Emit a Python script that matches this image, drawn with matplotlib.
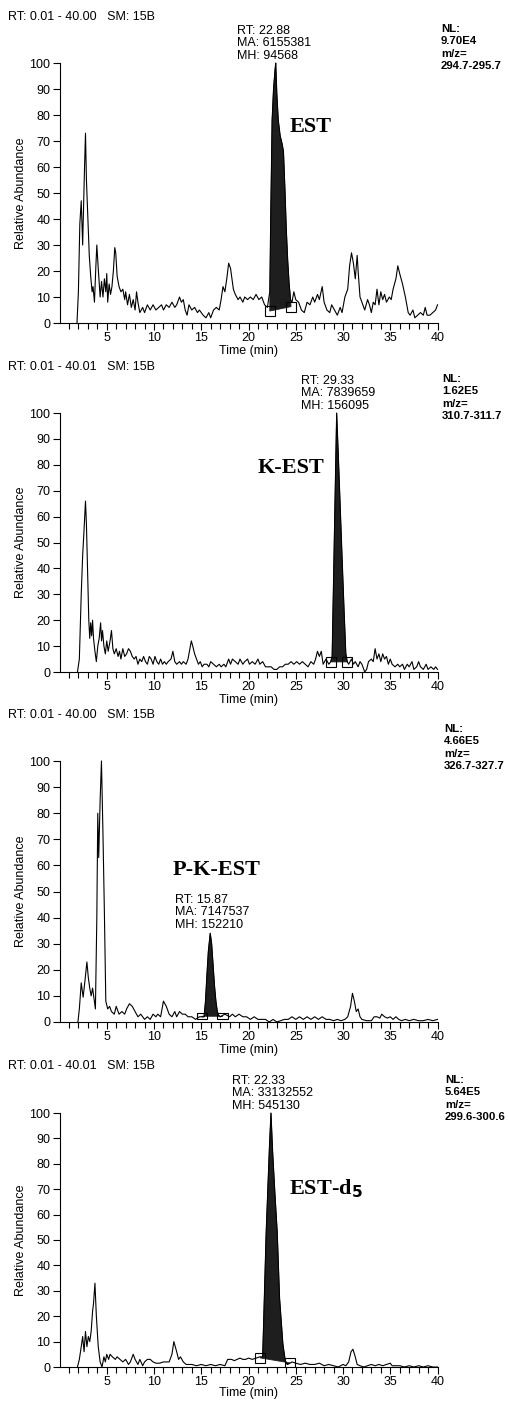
import matplotlib
matplotlib.use("Agg")
import matplotlib.pyplot as plt
from matplotlib.patches import Rectangle

plt.rcParams['font.family'] = ['Liberation Sans', 'DejaVu Sans']

# ---------------- data ----------------
est_time = [1.85, 2.0, 2.15, 2.3, 2.45, 2.55, 2.65, 2.75, 2.85, 3.0, 3.15, 3.3, 3.45, 3.55, 3.7, 3.85, 3.95,
            4.1, 4.3, 4.45, 4.6, 4.75, 4.9, 5.0, 5.1, 5.25, 5.4, 5.55, 5.7, 5.85, 5.95, 6.1, 6.3, 6.5, 6.7,
            6.9, 7.0, 7.2, 7.4, 7.6, 7.8, 8.0, 8.15, 8.3, 8.5, 8.8, 9.0, 9.3, 9.6, 9.9, 10.2, 10.5, 10.8,
            11.0, 11.3, 11.6, 11.9, 12.2, 12.4, 12.7, 12.9, 13.1, 13.3, 13.5, 13.7, 14.0, 14.3, 14.6, 14.8,
            15.0, 15.2, 15.5, 15.8, 16.0, 16.3, 16.6, 16.9, 17.1, 17.3, 17.5, 17.7, 17.9, 18.1, 18.4, 18.6,
            18.9, 19.1, 19.4, 19.6, 19.9, 20.2, 20.5, 20.8, 21.1, 21.4, 21.7, 22.0, 22.25, 22.35, 22.5,
            22.65, 22.8, 22.88, 23.0, 23.15, 23.35, 23.55, 23.7, 23.85, 24.0, 24.15, 24.3, 24.45, 24.6,
            24.8, 25.0, 25.3, 25.6, 25.9, 26.2, 26.5, 26.8, 27.0, 27.3, 27.5, 27.8, 28.0, 28.3, 28.6, 28.8,
            29.1, 29.4, 29.7, 29.9, 30.2, 30.5, 30.7, 30.9, 31.1, 31.3, 31.5, 31.6, 31.8, 32.0, 32.3, 32.6,
            32.8, 33.0, 33.2, 33.4, 33.6, 33.8, 34.0, 34.2, 34.4, 34.6, 34.9, 35.1, 35.3, 35.6, 35.8, 36.0,
            36.3, 36.6, 36.9, 37.1, 37.4, 37.6, 37.9, 38.2, 38.5, 38.7, 38.9, 39.2, 39.5, 39.8, 40.0]
est_abund = [0, 12, 38, 47, 30, 45, 60, 73, 55, 40, 26, 18, 12, 14, 8, 22, 30,
             21, 10, 16, 10, 17, 12, 19, 8, 15, 11, 14, 20, 29, 27, 18, 14, 12, 13,
             9, 12, 7, 11, 6, 9, 5, 12, 8, 4, 6, 4, 7, 5, 7, 5, 6, 7,
             5, 7, 6, 8, 6, 7, 10, 8, 9, 5, 3, 7, 5, 6, 4, 5,
             4, 3, 2, 4, 2, 5, 6, 5, 9, 14, 12, 17, 23, 21, 13, 11,
             9, 10, 8, 10, 9, 10, 9, 11, 9, 10, 7, 6, 12, 40, 78,
             90, 97, 100, 88, 78, 72, 69, 66, 52, 36, 24, 15, 9, 8,
             12, 9, 8, 5, 4, 8, 7, 10, 8, 11, 9, 14, 8, 5, 4, 7,
             5, 3, 6, 4, 10, 13, 22, 27, 23, 17, 26, 20, 10, 8, 5, 9,
             7, 4, 8, 7, 13, 7, 12, 9, 11, 8, 10, 9, 13, 17, 22, 19,
             15, 10, 4, 3, 5, 2, 3, 4, 3, 6, 3, 3, 4, 5, 7]

kest_time = [1.9, 2.1, 2.3, 2.45, 2.6, 2.75, 2.85, 3.0, 3.1, 3.2, 3.3, 3.4, 3.5, 3.6, 3.75, 3.9, 4.05,
             4.2, 4.35, 4.45, 4.55, 4.7, 4.85, 5.0, 5.15, 5.35, 5.5, 5.65, 5.8, 6.0, 6.2, 6.35, 6.5,
             6.7, 6.9, 7.1, 7.3, 7.5, 7.7, 7.9, 8.1, 8.3, 8.5, 8.7, 8.9, 9.1, 9.3, 9.5, 9.7, 9.9,
             10.1, 10.3, 10.5, 10.7, 10.9, 11.1, 11.3, 11.5, 11.8, 12.0, 12.2, 12.4, 12.7, 12.9,
             13.1, 13.4, 13.6, 13.8, 13.95, 14.1, 14.3, 14.5, 14.7, 14.9, 15.1, 15.3, 15.6, 15.8,
             16.0, 16.3, 16.6, 16.9, 17.1, 17.4, 17.6, 17.9, 18.1, 18.3, 18.6, 18.9, 19.1, 19.4,
             19.6, 19.9, 20.1, 20.4, 20.7, 21.0, 21.2, 21.5, 21.8, 22.1, 22.4, 22.7, 23.0, 23.3,
             23.6, 23.9, 24.2, 24.5, 24.8, 25.1, 25.4, 25.7, 26.0, 26.3, 26.6, 26.9, 27.1, 27.3,
             27.5, 27.7, 27.9, 28.2, 28.5, 28.7, 28.85, 29.0, 29.15, 29.33, 29.5, 29.7, 29.9,
             30.1, 30.3, 30.45, 30.6, 30.9, 31.1, 31.3, 31.6, 31.8, 32.0, 32.3, 32.5, 32.7, 33.0,
             33.2, 33.4, 33.6, 33.8, 34.0, 34.2, 34.4, 34.6, 34.8, 35.0, 35.2, 35.5, 35.8, 36.0,
             36.3, 36.5, 36.8, 37.0, 37.3, 37.5, 37.8, 38.0, 38.2, 38.5, 38.8, 39.0, 39.3, 39.6,
             39.8, 40.0]
kest_abund = [0, 5, 30, 45, 55, 66, 57, 35, 20, 13, 19, 14, 20, 13, 8, 4, 10,
              13, 19, 12, 16, 10, 7, 12, 8, 12, 16, 9, 7, 9, 6, 8, 5,
              9, 6, 7, 9, 8, 6, 5, 6, 3, 5, 4, 6, 4, 3, 6, 5, 3,
              6, 4, 3, 5, 3, 4, 3, 4, 5, 8, 4, 3, 4, 3,
              4, 3, 5, 9, 12, 10, 7, 5, 3, 4, 2, 3, 3, 2,
              4, 3, 2, 3, 2, 3, 2, 5, 3, 5, 4, 3, 5, 3,
              4, 5, 3, 4, 3, 5, 3, 4, 2, 2, 2, 1, 1, 2,
              2, 3, 3, 4, 3, 4, 3, 4, 3, 2, 4, 3, 5, 8,
              6, 8, 3, 5, 3, 4, 6, 35, 65, 100, 84, 64, 44,
              25, 7, 4, 3, 5, 3, 4, 2, 4, 3, 0, 1, 4, 5,
              4, 9, 5, 7, 4, 7, 5, 6, 3, 5, 3, 2, 3, 2,
              3, 1, 3, 2, 4, 1, 2, 4, 2, 1, 3, 1, 2, 1,
              2, 1]

pkest_time = [1.95, 2.1, 2.3, 2.5, 2.7, 2.9, 3.05, 3.2, 3.35, 3.5, 3.65, 3.8, 3.95, 4.05, 4.15, 4.3,
              4.44, 4.6, 4.75, 4.9, 5.1, 5.3, 5.5, 5.8, 6.0, 6.1, 6.3, 6.6, 6.9, 7.1, 7.4, 7.7, 8.0,
              8.3, 8.6, 9.0, 9.3, 9.6, 9.9, 10.2, 10.4, 10.7, 11.0, 11.3, 11.6, 11.9, 12.2, 12.4,
              12.7, 13.0, 13.3, 13.6, 14.0, 14.4, 14.8, 15.1, 15.3, 15.45, 15.6, 15.75, 15.95, 16.1,
              16.25, 16.4, 16.55, 16.7, 16.85, 17.0, 17.5, 18.0, 18.3, 18.6, 19.0, 19.4, 19.8, 20.2,
              20.6, 21.0, 21.4, 21.8, 22.2, 22.6, 23.0, 23.4, 23.8, 24.2, 24.6, 25.0, 25.4, 25.8,
              26.2, 26.6, 27.0, 27.4, 27.8, 28.2, 28.6, 29.0, 29.4, 29.8, 30.2, 30.5, 30.8, 31.0,
              31.2, 31.4, 31.6, 31.8, 32.0, 32.5, 33.0, 33.3, 33.6, 33.9, 34.1, 34.4, 34.7, 35.0,
              35.3, 35.6, 35.9, 36.2, 36.6, 37.0, 37.5, 38.0, 38.5, 39.0, 39.5, 40.0]
pkest_abund = [0, 5, 15, 9.5, 16, 23, 17, 13, 10, 13, 9, 5, 40, 80, 63, 85,
               100, 72, 42, 8, 5, 6, 4, 3, 6, 5, 3, 4, 3, 5, 7, 6, 4,
               2, 3, 1, 2, 1, 3, 2, 3, 2, 8, 6, 3, 2, 4, 2,
               4, 3, 3, 2, 2, 1, 2, 2, 2, 8, 18, 27, 34, 30,
               22, 14, 8, 4, 2.5, 2, 3, 2, 3, 2, 3, 2, 2, 1,
               2, 1, 1, 1, 0, 1, 0, 0.5, 1, 1, 2, 1, 2, 1,
               2, 1, 2, 1, 2, 1, 1, 0.5, 1, 0.5, 1, 2, 6, 11,
               8, 4, 5, 2, 1, 0.5, 0.5, 2, 2, 1.5, 3, 2, 1.5, 2,
               1, 2, 1, 0.5, 1, 0.5, 1, 0.5, 0.5, 1, 0.5, 1]

estd5_time = [1.9, 2.1, 2.3, 2.45, 2.6, 2.75, 2.9, 3.05, 3.2, 3.35, 3.5, 3.6, 3.75, 3.9, 4.1, 4.3,
              4.5, 4.7, 4.85, 5.0, 5.2, 5.35, 5.6, 5.9, 6.1, 6.4, 6.7, 7.0, 7.3, 7.5, 7.8, 8.0,
              8.3, 8.5, 8.8, 9.0, 9.3, 9.6, 9.9, 10.2, 10.6, 11.0, 11.3, 11.6, 11.9, 12.1, 12.4,
              12.6, 12.8, 13.1, 13.4, 14.0, 14.5, 15.0, 15.5, 16.0, 16.5, 17.0, 17.5, 17.8, 18.2,
              18.5, 18.8, 19.1, 19.4, 19.7, 20.0, 20.4, 20.8, 21.2, 21.5, 21.87, 22.23, 22.38,
              22.55, 22.8, 23.04, 23.29, 23.64, 23.89, 24.1, 24.4, 24.6, 25.0, 25.5, 26.0, 26.5,
              27.0, 27.5, 28.0, 28.5, 29.0, 29.5, 30.0, 30.3, 30.6, 30.85, 31.05, 31.3, 31.5,
              31.8, 32.2, 32.6, 33.0, 33.4, 33.8, 34.2, 34.6, 35.0, 35.2, 35.6, 36.0, 36.5, 37.0,
              37.5, 38.0, 38.5, 39.0, 39.5, 40.0]
estd5_abund = [0, 3, 8, 12, 6, 14, 8, 12, 10, 14, 22, 25, 33, 20, 8, 2,
               0, 4, 2, 5, 3, 5, 4, 3, 4, 3, 2, 3, 1, 2, 5, 3,
               1, 3, 0.5, 2, 3, 3, 2, 1.5, 1.5, 2, 2, 2, 5, 10, 6,
               3, 4, 2, 1, 1, 0.5, 1, 0.5, 1, 0.5, 1, 0.5, 3, 3,
               2.5, 3, 3.5, 3, 3, 3.5, 3, 3.5, 4, 4, 53, 88, 100,
               85, 68, 53, 27, 9, 2.5, 1, 1.5, 2, 1.5, 1, 1.5, 1,
               1, 1.5, 0.5, 1, 0.5, 0, 1, 0.5, 2, 6, 7, 4, 1,
               0.5, 0, 0.5, 1, 0.5, 1, 0.5, 1, 1.5, 0.5, 0.5, 0.5, 0, 0.5,
               0, 0.5, 0, 0.5, 0, 0]

# integration limits (start time, start base, end time, end base)
est_peak = (22.25, 4.6, 24.5, 6.3)
kest_peak = (28.7, 3.9, 30.45, 3.9)
pkest_peak = (15.05, 2.2, 17.25, 2.2)
estd5_peak = (21.23, 3.6, 24.39, 1.6)

headers = ["RT: 0.01 - 40.00   SM: 15B", "RT: 0.01 - 40.01   SM: 15B",
           "RT: 0.01 - 40.00   SM: 15B", "RT: 0.01 - 40.01   SM: 15B"]
peak_info = ["RT: 22.88\nMA: 6155381\nMH: 94568", "RT: 29.33\nMA: 7839659\nMH: 156095",
             "RT: 15.87\nMA: 7147537\nMH: 152210", "RT: 22.33\nMA: 33132552\nMH: 545130"]
nl_info = ["NL:\n9.70E4\nm/z=\n294.7-295.7", "NL:\n1.62E5\nm/z=\n310.7-311.7",
           "NL:\n4.66E5\nm/z=\n326.7-327.7", "NL:\n5.64E5\nm/z=\n299.6-300.6"]
compound_labels = ["EST", "K-EST", "P-K-EST", "EST-d$_\\mathbf{5}$"]

x_ticks = [5, 10, 15, 20, 25, 30, 35, 40]
y_ticks = [0, 10, 20, 30, 40, 50, 60, 70, 80, 90, 100]

# ---------------- layout (pixels) ----------------
W, H = 509, 1401
fig = plt.figure(figsize=(W / 100, H / 100), dpi=100)

def fx(px):
    return px / W

def fy(py):
    return 1 - py / H

panel_defs = [
    dict(t=est_time, y=est_abund, peak=est_peak, top=63, bottom=323, box_h=3.8,
         header_y=17, info_xy=(237, 25), nl_xy=(441, 24), label_xy=(290, 127), xlpad=1),
    dict(t=kest_time, y=kest_abund, peak=kest_peak, top=413, bottom=672, box_h=3.8,
         header_y=367, info_xy=(301, 375), nl_xy=(442, 374), label_xy=(258, 468), xlpad=1),
    dict(t=pkest_time, y=pkest_abund, peak=pkest_peak, top=761, bottom=1022, box_h=2.4,
         header_y=715, info_xy=(175, 894), nl_xy=(444, 724), label_xy=(173, 870), xlpad=1),
    dict(t=estd5_time, y=estd5_abund, peak=estd5_peak, top=1113, bottom=1367, box_h=3.8,
         header_y=1066, info_xy=(232, 1075), nl_xy=(445, 1075), label_xy=(289, 1189), xlpad=-1),
]

left_px, right_px = 59.5, 437.5
FS = 9

for i, p in enumerate(panel_defs):
    ax = fig.add_axes([fx(left_px), fy(p['bottom']), fx(right_px - left_px),
                       (p['bottom'] - p['top']) / H])
    t, y = p['t'], p['y']
    assert len(t) == len(y), (i, len(t), len(y))
    ax.plot(t, y, color='black', lw=0.8, clip_on=False, zorder=3)

    t0, b0, t1, b1 = p['peak']
    poly_x = [t0] + [tt for tt in t if t0 < tt < t1] + [t1]
    poly_y = [b0] + [yy for tt, yy in zip(t, y) if t0 < tt < t1] + [b1]
    ax.fill(poly_x, poly_y, color='#1e1e1e', lw=0.6, zorder=2)
    for (bt, bb) in [(t0, b0), (t1, b1)]:
        ax.add_patch(Rectangle((bt - 0.55, bb - p['box_h'] / 2), 1.1, p['box_h'],
                               fill=False, ec='black', lw=0.8, zorder=4))

    ax.set_xlim(0, 40)
    ax.set_ylim(0, 100)
    for s in ['top', 'right']:
        ax.spines[s].set_visible(False)
    for s in ['left', 'bottom']:
        ax.spines[s].set_linewidth(0.8)
    ax.set_xticks(x_ticks)
    ax.set_xticks(range(1, 41), minor=True)
    ax.set_yticks(y_ticks)
    ax.tick_params(axis='both', which='both', direction='out', width=0.8,
                   labelsize=FS, pad=1.5)
    ax.tick_params(axis='x', which='major', length=5)
    ax.tick_params(axis='x', which='minor', length=4)
    ax.tick_params(axis='y', which='major', length=5)
    ax.set_ylabel('Relative Abundance', fontsize=FS, labelpad=2)
    ax.set_xlabel('Time (min)', fontsize=FS, labelpad=p['xlpad'])

    fig.text(fx(8), fy(p['header_y']), headers[i], fontsize=FS, va='center', ha='left')
    fig.text(fx(p['info_xy'][0]), fy(p['info_xy'][1]), peak_info[i], fontsize=FS,
             va='top', ha='left', linespacing=1.05)
    fig.text(fx(p['nl_xy'][0]), fy(p['nl_xy'][1]), nl_info[i], fontsize=8.2,
             fontweight='bold', va='top', ha='left', linespacing=1.3)
    fig.text(fx(p['label_xy'][0]), fy(p['label_xy'][1]), compound_labels[i],
             fontsize=16, fontweight='bold', va='center', ha='left',
             family=['Liberation Serif', 'DejaVu Serif'])

fig.savefig('out.png', dpi=100)
